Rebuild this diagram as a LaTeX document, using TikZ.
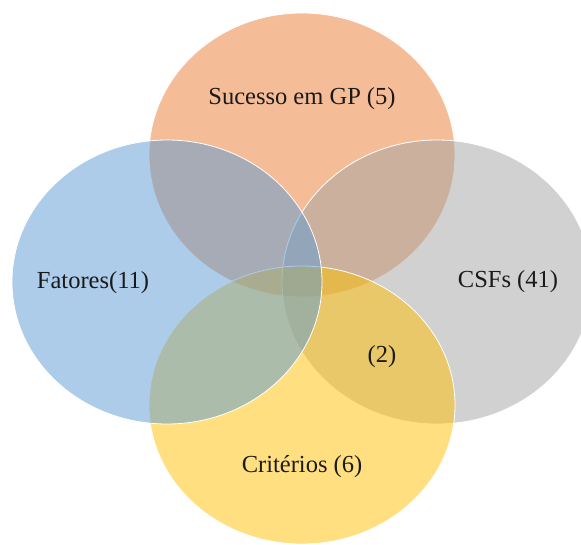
\documentclass[tikz,border=0pt]{standalone}
\usepackage{fontspec}
\setmainfont{Liberation Serif}
\definecolor{acc1}{HTML}{5B9BD5}
\definecolor{acc2}{HTML}{ED7D31}
\definecolor{acc3}{HTML}{A5A5A5}
\definecolor{acc4}{HTML}{FFC000}
\definecolor{txt}{HTML}{1A1A1A}
\begin{document}
\begin{tikzpicture}[x=1pt,y=-1pt,
  venn/.style={fill opacity=0.5, draw=white, draw opacity=1, line width=0.8pt},
  lbl/.style={font=\fontsize{24.5}{28}\selectfont, text=txt, inner sep=0pt}]
\useasboundingbox (0,0) rectangle (581,544);
\fill[white] (0,0) rectangle (581,544);
\coordinate (ctop) at (302,155);
\coordinate (cleft) at (167,282);
\coordinate (cright) at (437,282);
\coordinate (cbot) at (302,405);
\path[venn, fill=acc2] (ctop) ellipse [x radius=153, y radius=142];
\path[venn, fill=acc3] (cright) ellipse [x radius=155, y radius=142];
\path[venn, fill=acc4] (cbot) ellipse [x radius=153, y radius=139];
\path[venn, fill=acc1] (cleft) ellipse [x radius=155, y radius=142];
\node[lbl] (t1) at (302,99) {Sucesso em GP (5)};
\node[lbl] (t2) at (93,283) {Fatores(11)};
\node[lbl] (t3) at (508,282) {CSFs (41)};
\node[lbl] (t4) at (302,467) {Critérios (6)};
\node[lbl] (t5) at (382,357) {(2)};
\end{tikzpicture}
\end{document}
